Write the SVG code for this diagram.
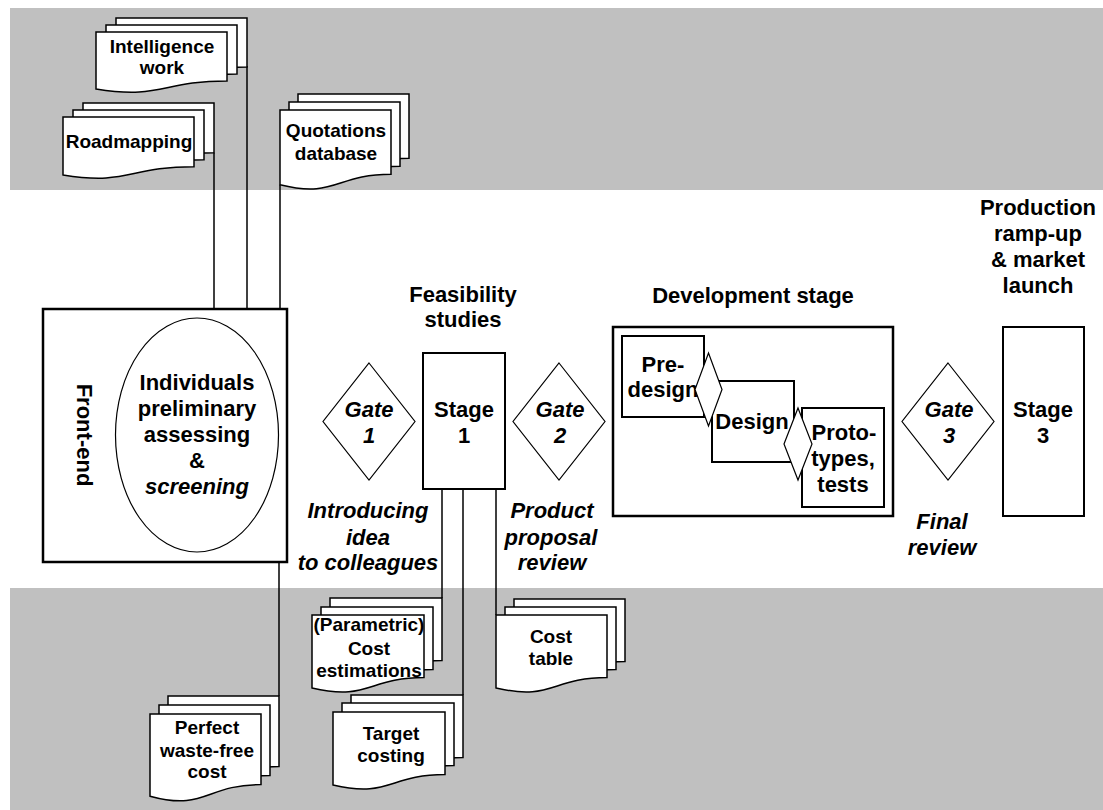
<svg xmlns="http://www.w3.org/2000/svg" width="1103" height="810" viewBox="0 0 1103 810">
  <style>
    .band { fill: #C0C0C0; }
    .doc { fill: #FFFFFF; stroke: #000000; stroke-width: 1.5; stroke-linejoin: miter; }
    .box { fill: #FFFFFF; stroke: #000000; stroke-width: 2.5; }
    .inner { fill: #FFFFFF; stroke: #000000; stroke-width: 2; }
    .gate { fill: #FFFFFF; stroke: #000000; stroke-width: 1.2; }
    .link { fill: none; stroke: #000000; stroke-width: 1.5; }
    text { font-family: "Liberation Sans", Arial, sans-serif; font-weight: bold; fill: #000000; text-anchor: middle; }
    .lbl { font-size: 22px; }
    .dtxt { font-size: 19px; }
    .it { font-style: italic; }
  </style>

  <!-- background bands -->
  <rect class="band" x="10" y="8" width="1093" height="182"/>
  <rect class="band" x="10" y="588" width="1093" height="222"/>

  <!-- connectors -->
  <g id="connectors">
    <path class="link" d="M214,152.7 V309"/>
    <path class="link" d="M247,66 V309"/>
    <path class="link" d="M280,184.7 V309"/>
    <path class="link" d="M279,560 V696"/>
    <path class="link" d="M442,489 V598"/>
    <path class="link" d="M463,489 V695"/>
    <path class="link" d="M496,489 V615"/>
  </g>

  <!-- Intelligence work -->
  <g id="intelligence-work">
    <path class="doc" d="M116,18 H247 V66.9 C181.5,66.9 181.5,85.5 116,75 Z"/>
    <path class="doc" d="M106,25 H237 V73.9 C171.5,73.9 171.5,92.5 106,82 Z"/>
    <path class="doc" d="M96,32 H227 V80.9 C161.5,80.9 161.5,99.5 96,89 Z"/>
    <text class="dtxt" x="162" y="53">Intelligence</text>
    <text class="dtxt" x="162" y="74">work</text>
  </g>

  <!-- Roadmapping -->
  <g id="roadmapping">
    <path class="doc" d="M83,103 H214 V152.7 C148.5,152.7 148.5,171.6 83,160.9 Z"/>
    <path class="doc" d="M73,110 H204 V159.7 C138.5,159.7 138.5,178.6 73,167.9 Z"/>
    <path class="doc" d="M63,117 H194 V166.7 C128.5,166.7 128.5,185.6 63,174.9 Z"/>
    <text class="dtxt" x="129" y="148">Roadmapping</text>
  </g>

  <!-- Quotations database -->
  <g id="quotations-database">
    <path class="doc" d="M298,94 H409 V158.2 C353.5,158.2 353.5,182.6 298,168.7 Z"/>
    <path class="doc" d="M289,102 H400 V166.2 C344.5,166.2 344.5,190.6 289,176.7 Z"/>
    <path class="doc" d="M280,110 H391 V174.2 C335.5,174.2 335.5,198.6 280,184.7 Z"/>
    <text class="dtxt" x="336" y="137">Quotations</text>
    <text class="dtxt" x="336" y="160">database</text>
  </g>

  <!-- Front-end -->
  <g id="front-end">
    <rect class="box" x="43" y="309" width="244" height="253"/>
    <ellipse cx="197" cy="435" rx="81.5" ry="117" fill="#FFFFFF" stroke="#000000" stroke-width="1.2"/>
    <text class="lbl" transform="translate(77,435) rotate(90)">Front-end</text>
    <text class="lbl" x="197" y="390">Individuals</text>
    <text class="lbl" x="197" y="416">preliminary</text>
    <text class="lbl" x="197" y="442">assessing</text>
    <text class="lbl" x="197" y="468">&amp;</text>
    <text class="lbl it" x="197" y="494">screening</text>
  </g>

  <!-- Gate 1 -->
  <g id="gate-1">
    <path class="gate" d="M369,363 L415,421.5 L369,480 L323,421.5 Z"/>
    <text class="lbl it" x="369" y="417">Gate</text>
    <text class="lbl it" x="369" y="443">1</text>
    <text class="lbl it" x="368" y="518">Introducing</text>
    <text class="lbl it" x="368" y="545">idea</text>
    <text class="lbl it" x="368" y="570">to colleagues</text>
  </g>

  <!-- Stage 1 -->
  <g id="stage-1">
    <text class="lbl" x="463" y="302">Feasibility</text>
    <text class="lbl" x="463" y="327">studies</text>
    <rect class="inner" x="423" y="353" width="82" height="136"/>
    <text class="lbl" x="464" y="417">Stage</text>
    <text class="lbl" x="464" y="443">1</text>
  </g>

  <!-- Gate 2 -->
  <g id="gate-2">
    <path class="gate" d="M559,363 L605,421.5 L559,480 L513,421.5 Z"/>
    <text class="lbl it" x="560" y="417">Gate</text>
    <text class="lbl it" x="560" y="443">2</text>
    <text class="lbl it" x="552" y="518">Product</text>
    <text class="lbl it" x="551" y="545">proposal</text>
    <text class="lbl it" x="552" y="570">review</text>
  </g>

  <!-- Development stage -->
  <g id="development-stage">
    <text class="lbl" x="753" y="303">Development stage</text>
    <rect class="box" x="613" y="327" width="280" height="189"/>
    <rect class="inner" x="622" y="336" width="82" height="81"/>
    <text class="lbl" x="663" y="372">Pre-</text>
    <text class="lbl" x="663" y="397">design</text>
    <rect class="inner" x="712" y="381" width="82" height="81"/>
    <text class="lbl" x="752" y="429">Design</text>
    <path class="gate" d="M708.5,353 L722,389.5 L708.5,426 L695,389.5 Z"/>
    <rect class="inner" x="802" y="408" width="82" height="99"/>
    <path class="gate" d="M798,408 L812,444 L798,480 L784,444 Z"/>
    <text class="lbl" x="844" y="440">Proto-</text>
    <text class="lbl" x="843" y="466">types,</text>
    <text class="lbl" x="843" y="492">tests</text>
  </g>

  <!-- Gate 3 -->
  <g id="gate-3">
    <path class="gate" d="M948,363 L994,421.5 L948,480 L902,421.5 Z"/>
    <text class="lbl it" x="949" y="417">Gate</text>
    <text class="lbl it" x="949" y="443">3</text>
    <text class="lbl it" x="942" y="529">Final</text>
    <text class="lbl it" x="942" y="555">review</text>
  </g>

  <!-- Stage 3 -->
  <g id="stage-3">
    <text class="lbl" x="1038" y="215">Production</text>
    <text class="lbl" x="1038" y="241">ramp-up</text>
    <text class="lbl" x="1038" y="267">&amp; market</text>
    <text class="lbl" x="1038" y="293">launch</text>
    <rect class="inner" x="1003" y="327" width="81" height="189"/>
    <text class="lbl" x="1043" y="417">Stage</text>
    <text class="lbl" x="1043" y="443">3</text>
  </g>

  <!-- (Parametric) Cost estimations -->
  <g id="cost-estimations">
    <path class="doc" d="M330,598 H442 V660.6 C386,660.6 386,684.3 330,670.9 Z"/>
    <path class="doc" d="M321,607 H433 V669.6 C377,669.6 377,693.3 321,679.9 Z"/>
    <path class="doc" d="M312,615 H424 V677.6 C368,677.6 368,701.3 312,687.9 Z"/>
    <text class="dtxt" x="369" y="631">(Parametric)</text>
    <text class="dtxt" x="369" y="655">Cost</text>
    <text class="dtxt" x="369" y="677">estimations</text>
  </g>

  <!-- Target costing -->
  <g id="target-costing">
    <path class="doc" d="M351,695 H463 V757.6 C407,757.6 407,781.3 351,767.9 Z"/>
    <path class="doc" d="M342,703 H454 V765.6 C398,765.6 398,789.3 342,775.9 Z"/>
    <path class="doc" d="M333,712 H445 V774.6 C389,774.6 389,798.3 333,784.9 Z"/>
    <text class="dtxt" x="391" y="740">Target</text>
    <text class="dtxt" x="391" y="762">costing</text>
  </g>

  <!-- Cost table -->
  <g id="cost-table">
    <path class="doc" d="M514,599 H625 V661.6 C569.5,661.6 569.5,685.3 514,671.9 Z"/>
    <path class="doc" d="M505,607 H616 V669.6 C560.5,669.6 560.5,693.3 505,679.9 Z"/>
    <path class="doc" d="M496,615 H607 V677.6 C551.5,677.6 551.5,701.3 496,687.9 Z"/>
    <text class="dtxt" x="551" y="643">Cost</text>
    <text class="dtxt" x="551" y="665">table</text>
  </g>

  <!-- Perfect waste-free cost -->
  <g id="perfect-cost">
    <path class="doc" d="M168,696 H279 V766.6 C223.5,766.6 223.5,793.4 168,778.2 Z"/>
    <path class="doc" d="M159,705 H270 V775.6 C214.5,775.6 214.5,802.4 159,787.2 Z"/>
    <path class="doc" d="M150,714 H261 V784.6 C205.5,784.6 205.5,811.4 150,796.2 Z"/>
    <text class="dtxt" x="207" y="734">Perfect</text>
    <text class="dtxt" x="207" y="757">waste-free</text>
    <text class="dtxt" x="207" y="778">cost</text>
  </g>
</svg>
